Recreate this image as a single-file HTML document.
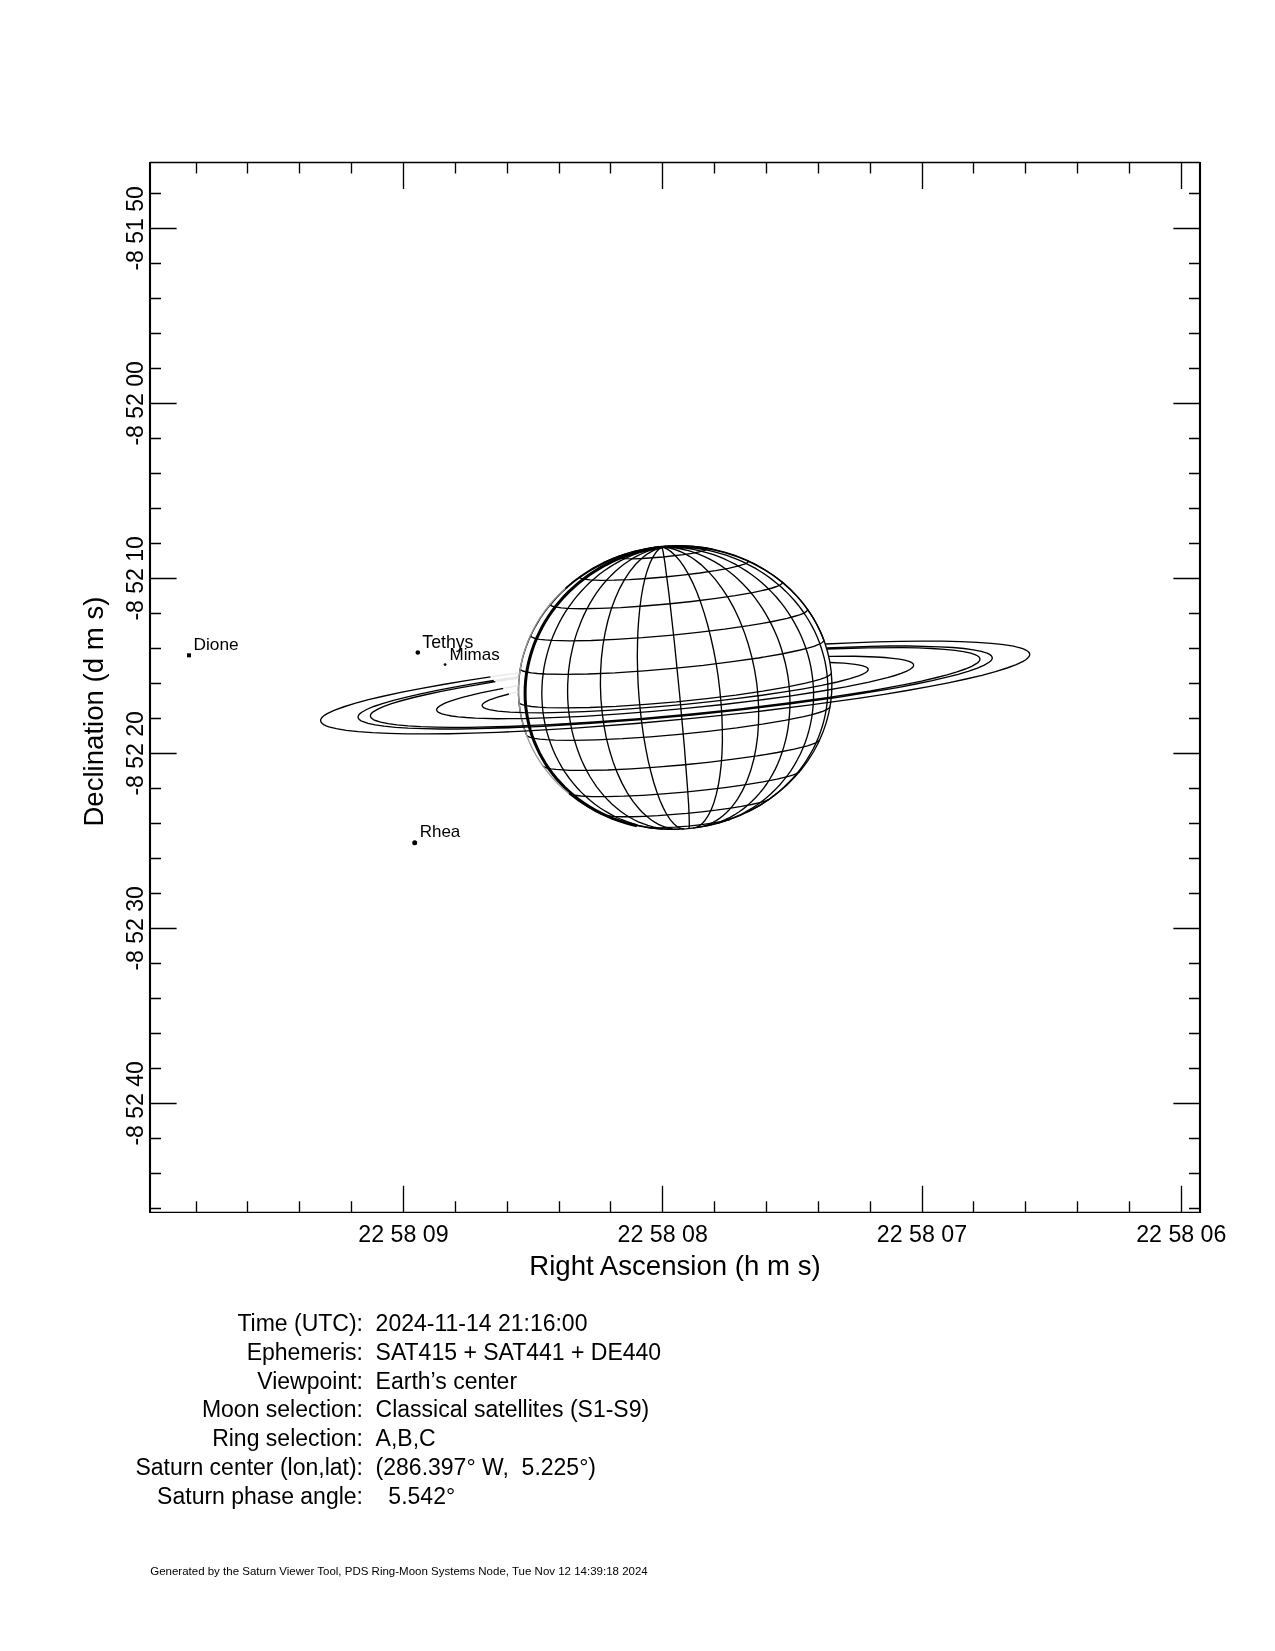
<!DOCTYPE html>
<html><head><meta charset="utf-8"><style>
html,body{margin:0;padding:0;background:#fff;}
svg{display:block;will-change:transform;}
text{font-family:"Liberation Sans", sans-serif;fill:#000;}
</style></head><body>
<svg width="1275" height="1651" viewBox="0 0 1275 1651">
<rect width="1275" height="1651" fill="#fff"/>
<path d="M196.5 1212.3V1201.3M196.5 162.5V173.5M247.5 1212.3V1201.3M247.5 162.5V173.5M299.5 1212.3V1201.3M299.5 162.5V173.5M351.5 1212.3V1201.3M351.5 162.5V173.5M403.5 1212.3V1185.7M403.5 162.5V189.1M455.5 1212.3V1201.3M455.5 162.5V173.5M507.5 1212.3V1201.3M507.5 162.5V173.5M559.5 1212.3V1201.3M559.5 162.5V173.5M610.5 1212.3V1201.3M610.5 162.5V173.5M662.5 1212.3V1185.7M662.5 162.5V189.1M714.5 1212.3V1201.3M714.5 162.5V173.5M766.5 1212.3V1201.3M766.5 162.5V173.5M818.5 1212.3V1201.3M818.5 162.5V173.5M870.5 1212.3V1201.3M870.5 162.5V173.5M922.5 1212.3V1185.7M922.5 162.5V189.1M973.5 1212.3V1201.3M973.5 162.5V173.5M1025.5 1212.3V1201.3M1025.5 162.5V173.5M1077.5 1212.3V1201.3M1077.5 162.5V173.5M1129.5 1212.3V1201.3M1129.5 162.5V173.5M1181.5 1212.3V1185.7M1181.5 162.5V189.1M150.0 193.5H161.0M1200.0 193.5H1189.0M150.0 228.5H176.6M1200.0 228.5H1173.4M150.0 263.5H161.0M1200.0 263.5H1189.0M150.0 298.5H161.0M1200.0 298.5H1189.0M150.0 333.5H161.0M1200.0 333.5H1189.0M150.0 368.5H161.0M1200.0 368.5H1189.0M150.0 403.5H176.6M1200.0 403.5H1173.4M150.0 438.5H161.0M1200.0 438.5H1189.0M150.0 473.5H161.0M1200.0 473.5H1189.0M150.0 508.5H161.0M1200.0 508.5H1189.0M150.0 543.5H161.0M1200.0 543.5H1189.0M150.0 578.5H176.6M1200.0 578.5H1173.4M150.0 613.5H161.0M1200.0 613.5H1189.0M150.0 648.5H161.0M1200.0 648.5H1189.0M150.0 683.5H161.0M1200.0 683.5H1189.0M150.0 718.5H161.0M1200.0 718.5H1189.0M150.0 753.5H176.6M1200.0 753.5H1173.4M150.0 788.5H161.0M1200.0 788.5H1189.0M150.0 823.5H161.0M1200.0 823.5H1189.0M150.0 858.5H161.0M1200.0 858.5H1189.0M150.0 893.5H161.0M1200.0 893.5H1189.0M150.0 928.5H176.6M1200.0 928.5H1173.4M150.0 963.5H161.0M1200.0 963.5H1189.0M150.0 998.5H161.0M1200.0 998.5H1189.0M150.0 1033.5H161.0M1200.0 1033.5H1189.0M150.0 1068.5H161.0M1200.0 1068.5H1189.0M150.0 1103.5H176.6M1200.0 1103.5H1173.4M150.0 1138.5H161.0M1200.0 1138.5H1189.0M150.0 1173.5H161.0M1200.0 1173.5H1189.0M150.0 1208.5H161.0M1200.0 1208.5H1189.0" stroke="#000" stroke-width="1.35" fill="none"/>
<path d="M150.0 162.5H1200.0M150.0 1212.3H1200.0" stroke="#000" stroke-width="1.3" fill="none"/>
<path d="M150.0 161.9V1212.8999999999999M1200.0 161.9V1212.8999999999999" stroke="#000" stroke-width="2.1" fill="none"/>
<text x="403.4" y="1242.3" font-size="23.2" text-anchor="middle">22 58 09</text>
<text x="662.7" y="1242.3" font-size="23.2" text-anchor="middle">22 58 08</text>
<text x="922.0" y="1242.3" font-size="23.2" text-anchor="middle">22 58 07</text>
<text x="1181.3" y="1242.3" font-size="23.2" text-anchor="middle">22 58 06</text>
<text transform="translate(143.3 228.4) rotate(-90)" font-size="23.0" text-anchor="middle">-8 51 50</text>
<text transform="translate(143.3 403.4) rotate(-90)" font-size="23.0" text-anchor="middle">-8 52 00</text>
<text transform="translate(143.3 578.4) rotate(-90)" font-size="23.0" text-anchor="middle">-8 52 10</text>
<text transform="translate(143.3 753.4) rotate(-90)" font-size="23.0" text-anchor="middle">-8 52 20</text>
<text transform="translate(143.3 928.4) rotate(-90)" font-size="23.0" text-anchor="middle">-8 52 30</text>
<text transform="translate(143.3 1103.4) rotate(-90)" font-size="23.0" text-anchor="middle">-8 52 40</text>
<text x="675" y="1274.8" font-size="27.6" text-anchor="middle">Right Ascension (h m s)</text>
<text transform="translate(103 711.6) rotate(-90)" font-size="27.6" text-anchor="middle">Declination (d m s)</text>
<rect x="187" y="653.3" width="4" height="4" fill="#000"/>
<circle cx="417.8" cy="652.5" r="2.3" fill="#000"/>
<circle cx="445.1" cy="664.6" r="1.4" fill="#000"/>
<circle cx="414.7" cy="842.8" r="2.5" fill="#000"/>
<text x="193.5" y="649.8" font-size="17.3">Dione</text>
<text x="422.3" y="647.7" font-size="17.7">Tethys</text>
<text x="449.6" y="659.5" font-size="17.0">Mimas</text>
<text x="419.7" y="836.9" font-size="17.0">Rhea</text>
<path d="M646.2 827.3 652.8 827.8 662.7 827.7 674.9 827.1 688.3 826.1 701.6 824.6 713.7 822.9 723.4 821.2 729.7 819.5 M603.2 814.7 607.1 815.7 613.2 816.4 621.6 816.7 632.3 816.7 644.3 816.3 658.0 815.6 686.8 813.4 701.8 811.8 715.9 810.2 729.2 808.3 741.4 806.4 751.6 804.5 759.8 802.6 765.8 800.8 769.5 799.1 M568.6 793.3 570.2 794.2 572.8 794.9 580.8 796.0 592.1 796.6 606.6 796.6 623.6 796.2 642.7 795.3 663.1 793.9 684.8 792.1 705.9 789.9 726.8 787.4 746.1 784.7 762.9 781.9 777.1 779.2 788.4 776.4 792.6 775.1 795.8 773.9 798.2 772.7 799.6 771.6 M543.0 766.0 544.3 767.0 547.0 768.0 550.9 768.8 556.1 769.4 569.7 770.3 587.0 770.4 607.6 770.0 631.3 768.8 656.3 767.2 682.2 765.0 708.0 762.3 733.5 759.2 757.0 755.9 777.3 752.5 794.2 749.2 807.5 745.8 812.4 744.2 815.9 742.8 818.4 741.3 819.7 740.0 M526.5 735.1 527.0 735.8 527.7 736.4 530.4 737.4 534.4 738.3 539.7 739.1 546.6 739.7 554.5 740.1 573.5 740.3 596.4 739.8 622.3 738.7 650.3 736.8 679.3 734.3 708.2 731.3 736.7 727.9 762.4 724.2 784.9 720.4 803.6 716.7 811.2 714.8 817.6 713.0 822.8 711.3 826.7 709.6 829.1 708.0 829.8 707.3 830.1 706.6 M518.9 702.2 519.2 702.9 519.9 703.6 522.3 704.7 526.1 705.7 531.5 706.5 538.4 707.2 546.2 707.6 565.9 707.9 589.8 707.5 616.3 706.3 645.7 704.3 676.2 701.8 706.7 698.6 735.9 695.1 762.8 691.2 786.4 687.2 805.6 683.2 813.6 681.2 819.9 679.4 825.0 677.6 828.6 675.9 830.8 674.3 831.2 673.5 831.4 672.8 M520.2 668.5 520.3 669.2 520.8 669.8 522.8 671.0 526.4 672.0 531.4 672.9 537.5 673.5 545.3 674.0 564.5 674.4 588.0 674.0 614.9 672.8 644.1 670.8 673.7 668.3 703.3 665.3 732.3 661.7 758.4 658.0 781.5 654.0 800.3 650.0 807.8 648.1 813.9 646.3 818.6 644.5 821.9 642.8 823.6 641.3 823.9 640.6 823.8 639.9 M530.6 635.1 530.5 635.7 530.8 636.4 532.4 637.5 535.3 638.5 539.6 639.3 545.2 639.9 552.1 640.4 569.6 640.8 591.4 640.5 615.8 639.4 642.4 637.7 670.0 635.3 698.2 632.4 724.6 629.2 748.8 625.7 770.2 622.0 787.1 618.4 794.0 616.5 799.4 614.9 803.4 613.3 806.2 611.7 807.5 610.3 807.6 609.6 807.4 609.0 M550.7 603.4 550.4 604.0 550.3 604.6 551.2 605.6 553.3 606.5 556.7 607.2 561.3 607.8 567.0 608.3 581.7 608.7 599.6 608.4 620.8 607.6 644.0 606.0 667.6 604.0 691.7 601.5 714.2 598.7 735.1 595.7 752.7 592.6 766.7 589.5 772.2 588.0 776.6 586.5 779.7 585.2 781.7 583.9 782.3 582.8 782.2 582.2 781.8 581.7 M580.8 575.9 579.9 576.8 579.8 577.2 580.0 577.7 581.1 578.4 583.1 579.0 590.1 579.9 600.4 580.3 613.8 580.2 629.3 579.6 646.7 578.5 664.6 577.0 682.5 575.1 699.8 573.0 715.5 570.6 728.4 568.3 738.7 565.9 745.2 563.8 747.2 562.8 748.2 561.9 748.3 561.4 748.1 561.0 747.1 560.3 M620.5 555.5 619.1 556.2 618.2 556.7 618.0 557.2 618.5 557.7 621.2 558.4 626.4 558.7 633.5 558.8 642.4 558.5 663.0 557.0 683.3 554.7 692.1 553.3 699.1 551.9 704.1 550.6 706.6 549.4 707.0 548.9 706.7 548.4 705.8 548.0 704.2 547.7" fill="none" stroke="#000" stroke-width="1.35"/>
<path d="M526.3 734.5 523.8 727.1 521.8 719.5 520.2 711.9 519.1 703.6 518.5 695.3 518.5 687.5 518.9 679.7 519.8 671.9 521.2 664.1 523.1 656.3 525.5 648.6 528.4 640.9 531.9 633.3 535.5 626.3 539.9 618.9 544.5 612.2 549.6 605.7 555.1 599.3 561.0 593.1 567.4 587.2 574.3 581.5 581.0 576.6 588.1 572.0 595.5 567.6 603.2 563.6 611.2 560.0 619.4 556.7 627.2 554.1 635.9 551.7 644.7 549.7 653.7 548.2 662.0 547.2 M603.4 562.7 610.5 559.5 617.2 556.8 624.6 554.3 631.6 552.2 639.4 550.4 646.6 549.0 654.6 547.9 662.0 547.2 M633.9 551.4 640.9 549.8 648.1 548.5 655.3 547.6 662.0 547.2 M645.6 548.8 653.7 547.6 662.0 547.2 M652.5 547.6 657.2 547.1 662.0 547.2 M657.4 546.9 659.8 546.9 662.0 547.2 M661.5 546.5 662.0 547.2 M665.6 546.1 663.7 546.5 662.0 547.2 M670.2 545.9 665.9 546.3 662.0 547.2 M676.5 545.7 669.2 546.1 662.0 547.2 M687.0 545.9 680.6 545.8 674.2 545.9 667.7 546.4 662.0 547.2 M712.7 549.2 706.5 548.0 700.1 547.2 693.7 546.5 687.3 546.1 680.8 546.0 674.3 546.2 662.0 547.2 M823.8 639.9 821.5 634.1 819.1 628.9 816.2 623.3 813.4 618.2 810.2 613.3 806.8 608.4 803.2 603.6 799.3 598.9 795.2 594.4 790.8 590.0 786.1 585.7 781.8 581.9 776.6 578.0 771.8 574.5 766.3 570.9 761.1 567.8 755.7 564.8 750.1 562.1 744.4 559.5 738.5 557.2 732.4 555.0 726.2 553.1 719.9 551.4 713.5 549.9 707.0 548.7 700.3 547.7 687.7 546.6 674.8 546.4 662.0 547.2 M747.5 812.0 753.1 809.2 758.5 806.1 763.8 802.8 769.4 799.0 774.2 795.4 779.4 791.2 783.8 787.3 788.4 782.8 792.4 778.6 796.6 773.9 800.5 769.0 804.1 764.0 807.4 758.9 810.5 753.7 813.4 748.5 816.2 742.6 818.5 737.3 820.7 731.3 822.5 725.8 824.1 719.8 825.3 714.3 826.4 708.2 827.2 702.1 827.7 696.0 827.9 689.9 827.8 683.8 827.4 677.7 826.7 671.6 825.8 665.6 824.6 659.6 823.0 653.6 821.4 648.2 819.3 642.3 817.0 636.5 814.4 630.7 811.7 625.6 808.5 620.0 805.3 615.0 801.9 610.0 798.3 605.2 794.4 600.5 790.2 595.9 785.8 591.4 781.2 587.1 776.3 582.9 771.2 578.9 765.9 575.0 760.9 571.7 755.1 568.2 749.7 565.3 743.6 562.2 737.9 559.7 732.0 557.3 726.0 555.2 719.8 553.3 713.6 551.6 707.3 550.2 700.8 549.0 694.3 548.0 687.7 547.3 681.1 546.9 674.5 546.7 662.0 547.2 M717.1 823.4 722.7 821.7 728.9 819.6 734.8 817.2 740.7 814.5 745.8 811.9 751.2 808.7 756.5 805.3 761.5 801.7 766.4 797.8 771.0 793.8 775.3 789.6 779.9 784.8 783.7 780.2 787.7 775.1 791.1 770.3 794.5 764.9 797.6 759.3 800.5 753.7 803.0 748.0 805.3 742.2 807.3 736.3 809.0 730.4 810.4 724.4 811.7 717.8 812.5 711.8 813.2 705.2 813.5 699.1 813.6 692.5 813.3 685.8 812.7 679.2 811.8 672.6 810.8 666.6 809.3 660.0 807.7 654.0 805.6 647.5 803.5 641.7 800.8 635.3 798.1 629.6 795.1 623.9 791.9 618.3 788.4 612.8 784.6 607.4 780.6 602.2 776.3 597.0 771.7 592.1 767.3 587.7 762.2 583.1 757.4 579.0 751.8 574.8 746.6 571.1 741.1 567.7 735.5 564.4 729.7 561.5 723.7 558.7 717.6 556.2 712.0 554.2 705.6 552.3 699.8 550.8 693.3 549.4 687.3 548.4 680.7 547.6 674.7 547.2 668.0 547.0 662.0 547.2 M705.2 826.1 710.0 825.1 715.2 823.6 720.3 821.8 725.2 819.7 730.1 817.3 734.7 814.7 739.2 811.8 743.6 808.6 747.7 805.2 751.7 801.6 755.5 797.8 759.4 793.4 762.8 789.3 766.3 784.5 769.5 779.5 772.5 774.4 775.3 769.1 777.8 763.7 780.0 758.2 782.0 752.6 783.8 746.9 785.5 740.6 786.8 734.8 788.0 728.3 788.8 722.4 789.4 715.9 789.8 709.3 790.0 702.7 789.8 696.1 789.4 689.4 788.8 682.8 787.9 676.2 786.7 669.6 785.3 663.0 781.9 650.5 779.8 644.0 777.6 638.1 774.9 631.8 772.3 626.1 769.1 619.9 766.0 614.4 762.7 608.9 759.1 603.6 755.4 598.4 751.4 593.3 747.2 588.5 743.2 584.2 738.6 579.7 734.2 575.8 729.2 571.7 724.6 568.2 719.8 564.9 714.8 561.9 709.7 559.1 704.5 556.6 699.3 554.3 693.9 552.4 688.5 550.7 683.5 549.5 678.0 548.4 672.5 547.7 666.9 547.3 662.0 547.2 M698.2 827.3 702.0 826.6 705.8 825.5 709.5 824.1 713.1 822.4 716.6 820.4 719.9 818.1 723.2 815.6 726.3 812.8 729.3 809.7 732.2 806.4 734.9 802.9 737.7 798.8 742.6 790.4 747.0 780.8 750.7 770.6 753.8 759.3 756.1 747.6 757.7 735.5 758.5 723.2 758.7 710.2 758.1 697.0 756.8 683.7 754.7 670.4 751.9 657.3 748.3 644.2 744.2 631.9 739.5 619.9 734.3 608.8 728.4 598.2 722.0 588.3 715.3 579.4 708.2 571.4 701.0 564.6 697.2 561.6 693.4 558.8 689.5 556.3 685.6 554.1 681.6 552.1 677.6 550.5 673.6 549.2 669.6 548.2 665.6 547.5 662.0 547.2 M693.1 828.0 695.2 827.6 697.2 826.9 699.2 825.8 701.1 824.4 702.9 822.7 704.7 820.8 708.0 816.0 711.1 809.9 713.9 802.7 716.2 794.7 718.3 785.5 719.9 775.6 721.2 764.7 722.0 753.2 722.4 741.3 722.3 728.6 721.9 715.7 721.0 702.5 719.7 689.3 718.1 676.0 716.0 662.7 713.5 649.5 710.7 637.0 707.6 624.8 704.3 613.4 700.7 602.5 696.8 592.1 692.8 582.9 688.5 574.4 684.1 566.9 679.7 560.6 675.2 555.5 670.7 551.4 668.4 549.9 666.2 548.6 663.9 547.7 662.0 547.2 M688.8 828.5 689.1 827.8 689.3 825.8 689.2 818.3 688.7 805.8 687.6 789.3 684.3 746.0 679.6 694.2 674.3 641.5 669.1 595.1 664.8 562.2 663.2 552.2 662.0 547.2 M684.5 828.9 682.7 828.8 680.9 828.4 679.1 827.7 677.3 826.7 673.8 823.7 670.2 819.6 666.6 814.2 663.2 807.6 659.9 800.2 656.7 791.5 653.6 782.0 650.8 771.5 648.1 760.3 645.8 748.7 643.6 736.2 641.8 723.4 640.3 710.3 639.0 697.0 638.1 683.6 637.6 670.2 637.3 656.8 637.5 644.0 637.9 631.5 638.7 619.7 639.8 608.4 641.2 597.5 642.9 587.7 644.9 578.6 647.3 570.4 649.8 563.5 652.6 557.6 655.6 552.9 657.1 551.0 658.8 549.3 660.4 548.1 662.0 547.2 M679.7 829.1 676.1 829.1 672.5 828.8 669.0 828.1 665.4 827.1 661.9 825.9 658.5 824.3 655.1 822.4 651.7 820.2 648.5 817.8 645.3 815.1 642.2 812.2 639.0 808.7 633.0 801.4 627.3 792.8 622.1 783.4 617.3 772.9 613.1 761.9 609.5 750.3 606.3 737.9 603.9 725.1 602.1 712.0 600.9 698.7 600.4 685.3 600.6 671.8 601.4 658.3 602.9 645.5 605.1 632.9 607.8 621.0 611.1 609.5 615.2 598.5 619.6 588.6 624.6 579.4 629.9 571.4 635.7 564.3 638.7 561.2 641.9 558.3 645.1 555.6 648.4 553.3 651.8 551.3 655.3 549.6 658.8 548.2 662.0 547.2 M673.3 829.3 668.1 829.2 663.0 828.7 657.9 827.9 652.9 826.8 647.9 825.4 643.1 823.7 638.3 821.8 633.7 819.5 629.1 817.0 624.8 814.2 620.5 811.2 616.0 807.6 612.1 804.2 607.9 800.1 604.0 795.9 600.3 791.4 596.7 786.8 593.4 782.0 590.2 777.0 587.3 771.9 584.6 766.6 581.8 760.7 579.6 755.2 577.3 749.1 573.6 737.2 572.0 730.8 570.7 724.3 569.6 717.8 568.7 711.2 568.1 704.6 567.7 697.9 567.6 691.2 567.7 684.5 568.5 671.6 569.4 664.8 570.4 658.1 573.2 645.2 575.0 638.6 576.9 632.6 581.4 620.7 584.0 614.9 586.8 609.2 589.8 603.6 592.8 598.7 596.2 593.4 599.6 588.7 603.5 583.8 607.2 579.5 611.2 575.4 615.2 571.5 619.5 567.8 623.9 564.3 628.4 561.2 633.0 558.2 637.8 555.6 642.2 553.5 647.2 551.4 652.2 549.6 657.3 548.2 662.0 547.2 M662.6 829.0 656.9 828.6 650.6 827.8 644.4 826.7 638.4 825.3 633.0 823.7 627.1 821.7 621.4 819.5 615.8 817.0 610.5 814.2 605.3 811.2 600.2 808.0 594.9 804.2 590.3 800.5 585.5 796.3 580.9 791.9 576.6 787.2 572.5 782.4 568.7 777.5 565.1 772.4 561.8 767.1 558.8 761.8 555.7 755.8 553.2 750.2 550.8 744.0 548.8 738.3 546.9 731.9 545.5 726.0 544.1 719.5 543.1 713.0 542.4 706.3 542.0 699.7 541.8 693.6 542.0 686.8 542.4 680.1 543.2 673.4 544.1 667.2 545.5 660.4 547.0 654.3 548.8 648.1 550.8 642.0 553.1 636.0 555.7 630.0 558.6 624.0 561.7 618.2 565.1 612.4 568.5 607.3 572.5 601.8 576.3 596.9 580.8 591.7 585.2 587.1 589.7 582.6 594.5 578.4 599.4 574.3 604.6 570.5 610.0 566.9 615.0 563.8 620.7 560.7 626.5 557.8 632.5 555.2 638.0 553.2 644.2 551.1 649.8 549.6 656.2 548.2 662.0 547.2" fill="none" stroke="#000" stroke-width="1.35"/>
<path d="M636.9 825.7 630.8 824.2 624.8 822.6 618.9 820.7 612.5 818.3 606.9 816.0 600.9 813.2 595.0 810.1 589.4 806.8 584.0 803.3 578.9 799.6 573.9 795.7 569.2 791.7 564.8 787.5 560.6 783.1 556.6 778.7 552.5 773.6 549.0 768.9 545.4 763.5 542.5 758.6 539.5 753.1 536.8 747.4 534.3 741.7 532.2 736.0 530.3 730.1 528.8 724.2 527.5 718.2 526.5 712.2 525.7 706.2 525.2 699.5 525.1 693.4 525.2 687.3 525.6 681.1 526.3 674.9 527.3 668.8 528.6 662.6 530.2 656.5 532.1 650.3 534.0 644.8 536.5 638.7 539.0 633.3 542.0 627.3 545.0 622.0 548.3 616.7 551.9 611.5 555.7 606.4 559.8 601.5 564.1 596.6 568.7 591.9 573.6 587.3 578.7 582.9 584.0 578.7 589.0 575.0 594.8 571.2 600.2 567.9 605.7 564.8 611.4 561.9 618.0 559.0 624.0 556.5 630.1 554.4 636.3 552.4 642.6 550.7 649.0 549.3 655.5 548.1 662.0 547.2" fill="none" stroke="#000" stroke-width="3"/>
<path d="M569.4 794.0 578.3 800.7 587.7 806.7 597.6 812.1 607.3 816.5 617.3 820.3 628.3 823.6 639.5 826.2 650.9 828.0 662.4 829.0 674.1 829.3 685.7 828.8 696.6 827.6 708.0 825.6 718.6 823.0 729.0 819.7 739.8 815.6 750.2 810.7 760.2 805.1 769.7 799.0 778.2 792.6 786.7 785.2 794.5 777.3 801.3 769.5 807.9 760.7 813.4 752.0 818.5 742.5 822.8 732.6 826.1 723.1 828.8 712.9 830.6 703.1 831.7 692.6 831.9 682.1 831.2 671.6 829.7 661.2 827.5 651.5 824.4 641.5 820.4 631.7 815.9 622.7 810.8 614.1 804.6 605.3 798.1 597.4 790.6 589.5 782.9 582.6 774.1 575.8 764.8 569.7 755.1 564.1 745.5 559.6 734.9 555.4 724.6 552.1 713.5 549.4 702.8 547.5 691.3 546.2 679.7 545.7 668.0 546.0 657.1 547.0 645.6 548.8 634.3 551.3 623.8 554.4 613.0 558.4 602.5 563.1 593.0 568.2 583.3 574.2 574.2 580.8 565.6 588.0" fill="none" stroke="#000" stroke-width="1.35"/>
<path d="M565.1 588.4 559.4 593.9 554.4 599.1 549.4 605.0 545.0 610.7 540.6 617.0 536.9 623.0 533.2 629.7 529.9 636.5 527.3 643.0 524.8 650.1 522.8 656.7 521.1 664.0 519.8 671.3 518.9 678.7 518.5 685.5 518.4 692.9 518.8 700.3 519.6 707.7 520.8 715.0 522.3 721.7 524.1 728.2 526.6 735.3 529.1 741.6 532.3 748.4 535.9 755.0 539.5 760.9 543.4 766.7 548.1 772.7 552.6 778.1 557.9 783.7 563.5 789.0 568.9 793.6" fill="none" stroke="#999" stroke-width="1.35"/>
<path d="M490.5 676.9 466.1 680.7 443.1 684.5 421.7 688.4 402.0 692.2 384.2 696.0 368.4 699.7 354.8 703.4 343.3 707.0 334.1 710.4 327.2 713.7 324.8 715.1 323.0 716.6 321.6 718.0 320.8 719.5 320.6 720.8 321.1 722.1 322.2 723.5 323.7 724.6 326.1 725.8 328.9 726.8 336.3 728.7 346.2 730.3 358.2 731.6 372.5 732.7 388.8 733.4 407.1 733.8 427.2 733.9 449.1 733.7 472.5 733.1 497.3 732.3 523.3 731.1 578.2 727.9 635.9 723.5 694.6 718.2 752.7 712.1 808.8 705.2 859.8 698.1 884.2 694.3 907.2 690.5 928.6 686.6 948.3 682.8 966.1 679.0 981.9 675.3 995.5 671.6 1007.0 668.0 1016.2 664.6 1023.1 661.3 1025.7 659.7 1027.5 658.3 1028.9 656.7 1029.6 655.4 1029.7 654.1 1029.2 652.7 1028.0 651.4 1026.3 650.3 1023.9 649.1 1021.1 648.1 1013.5 646.2 1003.6 644.6 991.4 643.3 977.0 642.3 960.6 641.6 942.2 641.2 921.9 641.1 900.0 641.4 876.5 641.9 851.7 642.8 825.6 644.0 M493.8 680.5 473.9 683.7 454.3 687.2 437.1 690.4 420.6 693.9 406.5 697.1 393.5 700.4 382.4 703.6 373.7 706.5 366.6 709.5 361.8 712.2 360.0 713.6 358.8 714.9 358.2 716.1 358.0 717.3 358.4 718.4 359.3 719.5 360.7 720.6 362.5 721.5 368.0 723.4 375.1 724.9 384.1 726.2 395.5 727.3 408.1 728.1 423.2 728.7 440.0 729.0 458.4 729.0 478.3 728.7 498.5 728.2 543.1 726.3 591.1 723.4 641.4 719.6 692.5 715.0 743.2 709.6 792.1 703.7 837.9 697.3 879.6 690.7 898.9 687.3 915.9 684.0 932.2 680.6 945.9 677.4 958.1 674.3 968.9 671.1 977.4 668.1 984.3 665.2 989.1 662.3 990.6 661.1 991.6 659.8 992.2 658.5 992.2 657.4 991.6 656.2 990.6 655.1 989.1 654.1 987.1 653.2 981.3 651.4 973.4 649.8 964.0 648.5 952.8 647.5 939.2 646.8 924.6 646.3 907.5 646.0 889.9 646.0 869.8 646.4 827.0 647.8 M495.4 681.6 458.2 688.1 441.2 691.4 426.6 694.5 413.5 697.5 402.1 700.5 392.3 703.4 383.9 706.4 377.4 709.3 373.2 711.8 371.8 713.0 370.9 714.2 370.4 715.5 370.5 716.6 371.0 717.6 372.0 718.6 373.4 719.6 375.4 720.5 380.6 722.1 388.1 723.7 397.0 724.9 408.3 725.9 420.7 726.6 435.4 727.1 451.8 727.4 468.8 727.3 506.4 726.5 549.4 724.7 594.4 722.0 642.7 718.4 691.8 713.9 740.5 708.8 786.3 703.2 830.5 697.1 870.6 690.8 888.3 687.6 905.7 684.3 921.4 681.1 934.7 678.0 947.0 674.8 957.0 671.9 965.2 669.0 971.7 666.3 976.3 663.7 978.1 662.4 979.1 661.2 979.8 660.0 979.9 658.8 979.5 657.7 978.7 656.7 977.4 655.7 975.6 654.8 970.7 653.1 963.5 651.6 954.9 650.3 944.5 649.3 931.8 648.5 918.1 647.9 902.0 647.7 867.4 647.9 826.9 649.1 M503.2 688.3 480.7 692.9 462.4 697.4 455.0 699.6 448.8 701.7 443.9 703.7 440.0 705.8 437.7 707.6 437.0 708.5 436.7 709.3 436.7 710.1 437.0 710.9 437.7 711.7 438.7 712.4 441.8 713.8 446.1 714.9 451.6 716.0 458.4 716.8 466.3 717.5 475.5 718.1 496.9 718.7 523.1 718.6 551.9 717.7 583.5 716.3 617.0 714.2 652.9 711.4 688.2 708.2 723.3 704.5 757.3 700.4 789.4 696.1 819.1 691.5 845.6 686.9 869.0 682.2 887.4 677.7 894.9 675.5 901.2 673.4 906.2 671.4 909.9 669.5 912.4 667.6 913.1 666.8 913.5 665.9 913.6 665.0 913.3 664.2 912.7 663.4 911.8 662.7 908.9 661.4 904.8 660.2 899.4 659.1 892.8 658.3 884.9 657.5 876.0 657.0 854.8 656.3 828.8 656.4 M509.0 694.0 497.6 697.1 489.0 700.2 486.0 701.6 483.8 703.0 482.5 704.3 482.1 705.5 482.6 706.7 483.9 707.8 486.0 708.7 489.2 709.6 497.9 711.1 509.9 712.1 524.3 712.6 542.0 712.8 562.0 712.4 584.2 711.6 608.0 710.4 633.0 708.7 658.8 706.7 684.9 704.3 710.8 701.6 736.1 698.7 760.2 695.5 782.8 692.2 803.4 688.8 821.7 685.4 837.3 682.0 850.0 678.7 859.4 675.6 862.8 674.2 865.4 672.8 867.1 671.5 868.1 670.2 868.2 669.0 867.3 667.8 865.7 666.8 863.0 665.9 859.7 665.1 855.2 664.3 844.2 663.2 830.1 662.5" fill="none" stroke="#000" stroke-width="1.35"/>
<path d="M519.0 672.8 491.8 676.7 M518.3 676.8 494.9 680.3 M518.7 678.1 496.5 681.5 M518.3 685.6 503.9 688.2 M518.2 691.8 509.4 693.9" fill="none" stroke="#e8e8e8" stroke-width="1.35"/>
<text x="363" y="1330.8" font-size="23.0" text-anchor="end">Time (UTC):</text>
<text x="375.6" y="1330.8" font-size="23.0" xml:space="preserve">2024-11-14 21:16:00</text>
<text x="363" y="1359.7" font-size="23.0" text-anchor="end">Ephemeris:</text>
<text x="375.6" y="1359.7" font-size="23.0" xml:space="preserve">SAT415 + SAT441 + DE440</text>
<text x="363" y="1388.5" font-size="23.0" text-anchor="end">Viewpoint:</text>
<text x="375.6" y="1388.5" font-size="23.0" xml:space="preserve">Earth’s center</text>
<text x="363" y="1417.4" font-size="23.0" text-anchor="end">Moon selection:</text>
<text x="375.6" y="1417.4" font-size="23.0" xml:space="preserve">Classical satellites (S1-S9)</text>
<text x="363" y="1446.3" font-size="23.0" text-anchor="end">Ring selection:</text>
<text x="375.6" y="1446.3" font-size="23.0" xml:space="preserve">A,B,C</text>
<text x="363" y="1475.1" font-size="23.0" text-anchor="end">Saturn center (lon,lat):</text>
<text x="375.6" y="1475.1" font-size="23.0" xml:space="preserve">(286.397° W,  5.225°)</text>
<text x="363" y="1504.0" font-size="23.0" text-anchor="end">Saturn phase angle:</text>
<text x="375.6" y="1504.0" font-size="23.0" xml:space="preserve">  5.542°</text>
<text x="150.2" y="1574.5" font-size="11.5">Generated by the Saturn Viewer Tool, PDS Ring-Moon Systems Node, Tue Nov 12 14:39:18 2024</text>
</svg></body></html>
